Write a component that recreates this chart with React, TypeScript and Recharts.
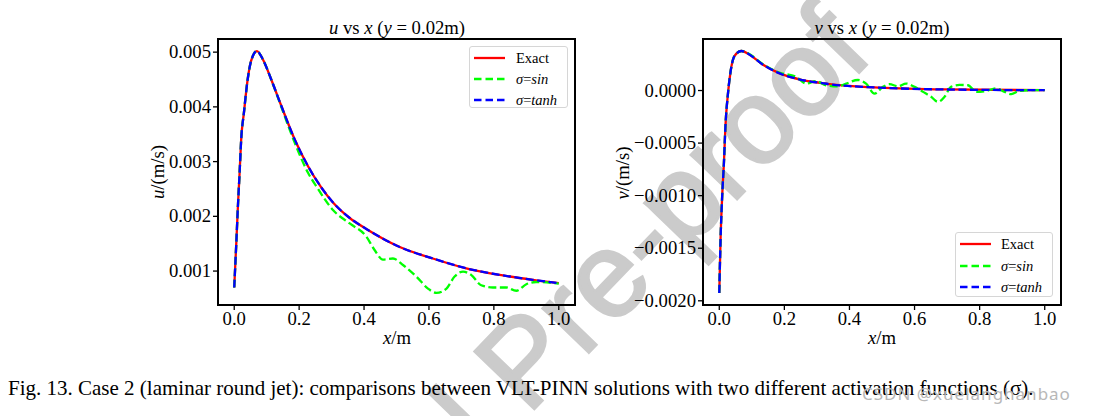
import { LineChart, Line, XAxis, YAxis, ReferenceArea } from "recharts"

// u vs x at y = 0.02m
const uExactX = [0, 0.006, 0.0114, 0.0166, 0.0215, 0.03, 0.04, 0.052, 0.07, 0.088, 0.114, 0.145, 0.186, 0.227, 0.268, 0.305, 0.356, 0.407, 0.51, 0.612, 0.715, 0.818, 0.92, 1.0]
const uExactY = [0.0007, 0.00146, 0.00219, 0.0028, 0.00341, 0.0039, 0.00444, 0.00484, 0.00502, 0.00487, 0.0045, 0.00402, 0.00341, 0.00292, 0.00253, 0.00225, 0.00197, 0.00177, 0.00144, 0.00123, 0.00105, 0.00093, 0.00084, 0.00078]
const uSinX = [0, 0.006, 0.0114, 0.0166, 0.0215, 0.03, 0.04, 0.052, 0.07, 0.088, 0.114, 0.145, 0.186, 0.202, 0.227, 0.254, 0.305, 0.356, 0.407, 0.433, 0.458, 0.489, 0.52, 0.561, 0.597, 0.623, 0.654, 0.679, 0.705, 0.73, 0.761, 0.797, 0.838, 0.869, 0.9, 0.93, 1.0]
const uSinY = [0.0007, 0.00146, 0.00219, 0.0028, 0.00341, 0.0039, 0.00444, 0.00484, 0.00502, 0.00487, 0.0045, 0.004, 0.00335, 0.00312, 0.0028, 0.00254, 0.00211, 0.00187, 0.00163, 0.00138, 0.00121, 0.00123, 0.00111, 0.0009, 0.00068, 0.0006, 0.00068, 0.0009, 0.00099, 0.00093, 0.00074, 0.0007, 0.0007, 0.00064, 0.00076, 0.0008, 0.00077]
const uTanhX = uExactX
const uTanhY = uExactY

// v vs x at y = 0.02m
const vExactX = [0, 0.004, 0.009, 0.0144, 0.019, 0.027, 0.035, 0.047, 0.068, 0.091, 0.132, 0.184, 0.255, 0.317, 0.338, 0.49, 0.697, 1.0]
const vExactY = [-0.001925, -0.00141, -0.001, -0.00068, -0.000336, -0.00002, 0.000186, 0.00033, 0.000376, 0.000345, 0.00025, 0.000165, 0.0001, 0.00007, 0.00006, 0.000028, 0.00001, 0.000003]
const vSinX = [0, 0.004, 0.009, 0.0144, 0.019, 0.027, 0.035, 0.047, 0.068, 0.091, 0.132, 0.184, 0.236, 0.267, 0.297, 0.328, 0.364, 0.39, 0.426, 0.451, 0.477, 0.503, 0.523, 0.549, 0.574, 0.6, 0.626, 0.651, 0.672, 0.692, 0.712, 0.738, 0.764, 0.79, 0.82, 0.851, 0.877, 0.897, 0.922, 0.96, 1.0]
const vSinY = [-0.001925, -0.00141, -0.001, -0.00068, -0.000336, -0.00002, 0.000186, 0.00033, 0.000376, 0.00035, 0.000255, 0.00017, 0.00013, 0.000066, 0.00009, 0.00005, 0.00004, 0.000066, 0.0001, 0.000066, -0.00003, 0.000035, 0.00006, 0.00004, 0.000066, 0.000035, -0.000013, -0.00006, -0.000108, -0.00006, 0.000035, 0.000053, 0.00005, -0.000013, -0.000004, 0.00002, -0.000013, -0.000035, -0.000004, 0.000003, 0.000003]
const vTanhX = vExactX
const vTanhY = vExactY

const xTicks = [0, 0.2, 0.4, 0.6, 0.8, 1.0]
const uTicks = [0.001, 0.002, 0.003, 0.004, 0.005]
const vTicks = [-0.002, -0.0015, -0.001, -0.0005, 0]

const caption = "Fig. 13. Case 2 (laminar round jet): comparisons between VLT-PINN solutions with two different activation functions (σ)."

const toPoints = (xs: number[], ys: number[]) => xs.map((x, i) => ({ x, y: ys[i] }))

const serif = "'Liberation Serif', 'Times New Roman', serif"

function XTick(props: any) {
  const { x, y, payload, tickFormatter } = props
  return (
    <text x={x} y={y + 13} textAnchor="middle" fontFamily={serif} fontSize={18.7} fill="#000">
      {tickFormatter ? tickFormatter(payload.value) : payload.value}
    </text>
  )
}

function YTick(props: any) {
  const { x, y, payload, tickFormatter } = props
  return (
    <text x={x} y={y + 6} textAnchor="end" fontFamily={serif} fontSize={18.7} fill="#000">
      {tickFormatter ? tickFormatter(payload.value) : payload.value}
    </text>
  )
}

function Panel(props: {
  left: number
  width: number
  margin: { top: number; right: number; bottom: number; left: number }
  exact: { x: number; y: number }[]
  sin: { x: number; y: number }[]
  tanh: { x: number; y: number }[]
  yDomain: [number, number]
  yTicks: number[]
  yFormat: (v: number) => string
}) {
  return (
    <div style={{ position: "absolute", left: props.left, top: 0 }}>
      <LineChart width={props.width} height={340} margin={props.margin}>
        <XAxis
          type="number"
          dataKey="x"
          domain={[-0.05, 1.05]}
          ticks={xTicks}
          allowDataOverflow
          tickFormatter={(v: number) => v.toFixed(1)}
          tick={<XTick />}
          height={30}
          axisLine={false}
          tickLine={{ stroke: "#000", strokeWidth: 1.3 }}
          tickSize={5}
        />
        <YAxis
          type="number"
          domain={props.yDomain}
          ticks={props.yTicks}
          allowDataOverflow
          tickFormatter={props.yFormat}
          tick={<YTick />}
          width={60}
          axisLine={false}
          tickLine={{ stroke: "#000", strokeWidth: 1.3 }}
          tickSize={5}
        />
        <Line data={props.exact} dataKey="y" type="monotone" stroke="#ff0000" strokeWidth={2.3} dot={false} activeDot={false} isAnimationActive={false} />
        <Line data={props.sin} dataKey="y" type="monotone" stroke="#00ff00" strokeWidth={2.3} strokeDasharray="8 3.5" dot={false} activeDot={false} isAnimationActive={false} />
        <Line data={props.tanh} dataKey="y" type="monotone" stroke="#0000ff" strokeWidth={2.3} strokeDasharray="8 3.5" dot={false} activeDot={false} isAnimationActive={false} />
        <ReferenceArea x1={-0.05} x2={1.05} y1={props.yDomain[0]} y2={props.yDomain[1]} fill="none" fillOpacity={0} stroke="#000" strokeWidth={2} ifOverflow="visible" />
      </LineChart>
    </div>
  )
}

function LegendBox(props: { left: number; top: number; width: number; height: number; rows: number[]; lineLeft: number; textLeft: number }) {
  const items = [
    { color: "#ff0000", dash: false, label: <span>Exact</span> },
    { color: "#00ff00", dash: true, label: <span><i>σ</i>=<i>sin</i></span> },
    { color: "#0000ff", dash: true, label: <span><i>σ</i>=<i>tanh</i></span> },
  ]
  return (
    <div style={{ position: "absolute", left: props.left, top: props.top, width: props.width, height: props.height, border: "1px solid #d6d6d6", borderRadius: 3, background: "#fff", boxSizing: "border-box" }}>
      {items.map((it, i) => (
        <div key={i}>
          <svg style={{ position: "absolute", left: props.lineLeft, top: props.rows[i] - 3 }} width={31} height={6}>
            <line x1={0} y1={3} x2={31} y2={3} stroke={it.color} strokeWidth={2.3} strokeDasharray={it.dash ? "7.5 4" : undefined} />
          </svg>
          <div style={{ position: "absolute", left: props.textLeft, top: props.rows[i] - 9, fontFamily: serif, fontSize: 14.5, lineHeight: "18px", whiteSpace: "nowrap" }}>{it.label}</div>
        </div>
      ))}
    </div>
  )
}

const centered = (x: number, y: number, rotate = 0): React.CSSProperties => ({
  position: "absolute",
  left: x,
  top: y,
  transform: `translate(-50%, -50%)${rotate ? ` rotate(${rotate}deg)` : ""}`,
  fontFamily: serif,
  fontSize: 18.7,
  whiteSpace: "nowrap",
  lineHeight: "22px",
})

export default function App() {
  const vFormat = (v: number) => (Math.abs(v) < 1e-12 ? "0.0000" : v.toFixed(4).replace("-", "\u2212"))
  return (
    <div style={{ position: "absolute", left: 0, top: 0, width: 1098, height: 416, background: "#fff", overflow: "hidden" }}>
      <svg style={{ position: "absolute", left: 0, top: 0 }} width={1098} height={416}>
        <text x={875} y={56} transform="rotate(-46 875 56)" textAnchor="end" fontFamily="'Liberation Sans', Arial, sans-serif" fontSize={120} fill="#cbcbcb" stroke="#cbcbcb" strokeWidth={3}>
          Journal Pre-proof
        </text>
      </svg>

      <Panel
        left={0}
        width={600}
        margin={{ top: 39, right: 25, bottom: 5, left: 158 }}
        exact={toPoints(uExactX, uExactY)}
        sin={toPoints(uSinX, uSinY)}
        tanh={toPoints(uTanhX, uTanhY)}
        yDomain={[0.00038, 0.00524]}
        yTicks={uTicks}
        yFormat={(v: number) => v.toFixed(3)}
      />
      <Panel
        left={620}
        width={460}
        margin={{ top: 39, right: 19, bottom: 5, left: 23 }}
        exact={toPoints(vExactX, vExactY)}
        sin={toPoints(vSinX, vSinY)}
        tanh={toPoints(vTanhX, vTanhY)}
        yDomain={[-0.00204, 0.00049]}
        yTicks={vTicks}
        yFormat={vFormat}
      />

      <div style={centered(397, 28)}><i>u</i> vs <i>x</i> (<i>y</i> = 0.02m)</div>
      <div style={centered(882, 28)}><i>v</i> vs <i>x</i> (<i>y</i> = 0.02m)</div>
      <div style={centered(397, 338)}><i>x</i>/m</div>
      <div style={centered(882, 338)}><i>x</i>/m</div>
      <div style={centered(158, 172, -90)}><i>u</i>/(m/s)</div>
      <div style={centered(623, 173, -90)}><i>v</i>/(m/s)</div>

      <LegendBox left={469} top={46} width={99} height={62} rows={[11, 32, 53]} lineLeft={4} textLeft={46} />
      <LegendBox left={955} top={232} width={98} height={65} rows={[11, 33, 54]} lineLeft={4} textLeft={45} />

      <div style={{ position: "absolute", left: 8, top: 376, fontFamily: serif, fontSize: 21, lineHeight: "24px", whiteSpace: "nowrap" }}>{caption}</div>
      <div style={{ position: "absolute", left: 862, top: 384, fontFamily: "'Noto Sans', sans-serif", fontSize: 17, letterSpacing: 1, lineHeight: "20px", color: "#b8b8b8", whiteSpace: "nowrap" }}>CSDN @xuelanghanbao</div>
    </div>
  )
}
